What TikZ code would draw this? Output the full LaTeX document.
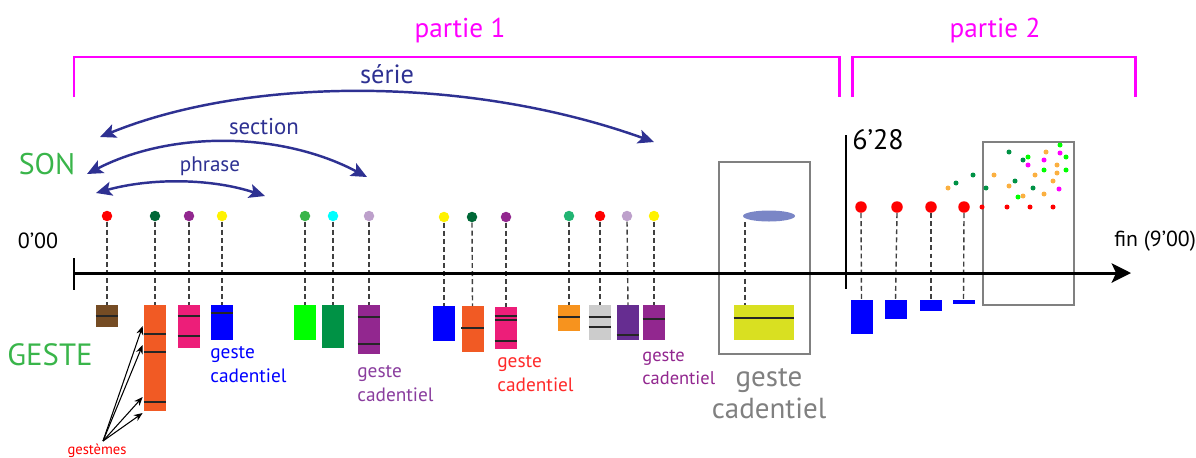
\documentclass[tikz,border=0pt]{standalone}
\usepackage{fontspec}
\setmainfont{PT Sans}
\usetikzlibrary{arrows.meta,shapes.geometric,calc}
\definecolor{mag}{HTML}{FF00FF}
\definecolor{arcblue}{HTML}{2E3192}
\definecolor{songreen}{HTML}{39B54A}
\definecolor{framegrey}{HTML}{808080}
\definecolor{dkgreen}{HTML}{006837}
\definecolor{purp}{HTML}{92278F}
\definecolor{ltpurp}{HTML}{BDA0CB}
\definecolor{yel}{HTML}{FFF200}
\definecolor{cyn}{HTML}{00FFFF}
\definecolor{brn}{HTML}{754C24}
\definecolor{org}{HTML}{F15A24}
\definecolor{pnk}{HTML}{ED1E79}
\definecolor{ltorg}{HTML}{F7931E}
\definecolor{dpurp}{HTML}{662D91}
\definecolor{ygreen}{HTML}{D9E021}
\definecolor{midgreen}{HTML}{009245}
\definecolor{tgreen}{HTML}{22B573}
\definecolor{sorg}{HTML}{FBB040}
\definecolor{elblue}{HTML}{7A86C6}
\definecolor{txtpurp}{HTML}{8A3D9E}
\definecolor{txtred}{HTML}{FF2A2A}
\definecolor{brightgreen}{HTML}{00FF00}
\definecolor{pureblue}{HTML}{0000FF}
\definecolor{purered}{HTML}{FF0000}
\newcommand\gbx[5]{\node[gbox, fill=#5, minimum height={(#4-#3)*0.02cm}] (#1) at (#2,#3) {};}
\newcommand\bline[2]{\draw[inl] ($(#1.north west)+(0,#2)$) -- ($(#1.north east)+(0,#2)$);}
\begin{document}
\begin{tikzpicture}[x=0.02cm,y=-0.02cm,
  lbl/.style={inner sep=0pt},
  dot/.style={circle, inner sep=0pt, minimum size=0.21cm},
  bdot/.style={circle, inner sep=0pt, minimum size=0.23cm, fill=purered},
  sdot/.style={circle, inner sep=0pt, minimum size=0.1cm},
  gbox/.style={rectangle, inner sep=0pt, minimum width=0.44cm, anchor=north, draw=none},
  dsh/.style={draw=black!75, line width=0.8pt, dash pattern=on 2.8pt off 1.8pt},
  inl/.style={draw=black!85, line width=0.9pt},
  arcarrow/.style={draw=arcblue, line width=1.4pt, {Stealth[length=9pt,width=8pt,inset=2pt]}-{Stealth[length=9pt,width=8pt,inset=2pt]}},
  brk/.style={draw=mag, line width=1.7pt},
  gframe/.style={draw=framegrey, line width=1.3pt},
  gc/.style={inner sep=0pt, align=left, font=\fontsize{11}{13.7}\selectfont},
]
\useasboundingbox (0,0) rectangle (1196,457);

% brackets
\draw[brk] (74,97) -- (74,57) -- (839,57) -- (839,97);
\draw[brk] (852,97) -- (852,57) -- (1135,57) -- (1135,97);
\node[lbl, text=mag, font=\fontsize{15.5}{18}\selectfont] (part1) at (460,31) {partie 1};
\node[lbl, text=mag, font=\fontsize{15.5}{18}\selectfont] (part2) at (995,31) {partie 2};

% arcs
\coordinate (serA) at (100,137); \coordinate (serB) at (654,142);
\coordinate (secA) at (87,174); \coordinate (secB) at (367,177);
\coordinate (phrA) at (96,193); \coordinate (phrB) at (265,196);
\draw[arcarrow] (serA) .. controls (250,76) and (470,76) .. (serB);
\draw[arcarrow] (secA) .. controls (170,131) and (280,131) .. (secB);
\draw[arcarrow] (phrA) .. controls (150,178) and (210,178) .. (phrB);
\node[lbl, text=arcblue, font=\fontsize{15}{18}\selectfont] (serie) at (387,74) {série};
\node[lbl, text=arcblue, font=\fontsize{13}{16}\selectfont] (section) at (264,127) {section};
\node[lbl, text=arcblue, font=\fontsize{12}{14}\selectfont] (phrase) at (210,166) {phrase};

\node[lbl, text=songreen, font=\fontsize{17}{20}\selectfont] (son) at (47,164) {SON};
\node[lbl, text=songreen, font=\fontsize{17.5}{20}\selectfont] (geste) at (50,355) {GESTE};
\node[lbl, font=\fontsize{12.5}{15}\selectfont] (t0) at (38,241) {0’00};

% grey frames
\draw[gframe] (719,162) rectangle (810,354);
\draw[gframe] (983,142) rectangle (1074,305);

% dots
\node[dot, fill=purered] (d1) at (107,216) {};
\node[dot, fill=dkgreen] (d2) at (155,216) {};
\node[dot, fill=purp] (d3) at (189,216) {};
\node[dot, fill=yel] (d4) at (222,216) {};
\node[dot, fill=songreen] (d5) at (305,216) {};
\node[dot, fill=cyn] (d6) at (333,216) {};
\node[dot, fill=ltpurp] (d7) at (369,216) {};
\node[dot, fill=yel] (d8) at (444,217) {};
\node[dot, fill=dkgreen] (d9) at (472,217) {};
\node[dot, fill=purp] (d10) at (506,217) {};
\node[dot, fill=tgreen] (d11) at (569,216) {};
\node[dot, fill=purered] (d12) at (600,216) {};
\node[dot, fill=ltpurp] (d13) at (627,216) {};
\node[dot, fill=yel] (d14) at (654,216) {};
\node[ellipse, fill=elblue, inner sep=0pt, minimum width=1.04cm, minimum height=0.22cm] (e1) at (769,216) {};
\coordinate (e1d) at (745,222);

% boxes
\gbx{b1}{107}{305}{327}{brn}
\gbx{b2}{155}{305}{411}{org}
\gbx{b3}{189}{305}{348}{pnk}
\gbx{b4}{222}{305}{340}{pureblue}
\gbx{b5}{305}{305}{340}{brightgreen}
\gbx{b6}{333}{305}{348}{midgreen}
\gbx{b7}{369}{305}{354}{purp}
\gbx{b8}{444}{306}{341}{pureblue}
\gbx{b9}{472.5}{306}{352}{org}
\gbx{b10}{506}{307}{349}{pnk}
\gbx{b11}{569}{305}{331}{ltorg}
\gbx{b12}{600}{305}{340}{black!20}
\gbx{b13}{628}{305}{340}{dpurp}
\gbx{b14}{654}{305}{340}{purp}
\node[gbox, fill=ygreen, minimum width=1.2cm, minimum height={35*0.02cm}] (b15) at (764,305) {};
\coordinate (b15t) at (745,305);

\bline{b1}{11}
\bline{b2}{29}\bline{b2}{47}\bline{b2}{97}
\bline{b3}{11}\bline{b3}{31}
\bline{b4}{8}
\bline{b7}{12}\bline{b7}{39}
\bline{b9}{22}
\bline{b10}{9}\bline{b10}{13}\bline{b10}{34}
\bline{b11}{12}
\bline{b12}{12}\bline{b12}{22}
\bline{b13}{30}
\bline{b14}{14}
\bline{b15}{13}

% dashed connectors
\foreach \i in {1,...,14}{\draw[dsh] (d\i.south) -- (b\i.north);}
\draw[dsh] (e1d) -- (b15t);

% part 2
\node[bdot] (p1) at (861,207) {};
\node[bdot] (p2) at (897,207) {};
\node[bdot] (p3) at (931,207) {};
\node[bdot] (p4) at (964,207) {};
\gbx{q1}{861.5}{300}{334}{pureblue}
\gbx{q2}{895.5}{300}{319}{pureblue}
\gbx{q3}{931}{300}{311}{pureblue}
\gbx{q4}{963.5}{300}{304}{pureblue}
\foreach \i in {1,...,4}{\draw[dsh] (p\i.south) -- (q\i.north);}

% scattered dots
\foreach \x/\y/\c [count=\k] in {
 948/188/sorg, 956/183/midgreen, 973/175/midgreen, 994/175/sorg, 986/188/midgreen,
 982/207/purered, 1009/152/midgreen, 1023/160/midgreen, 1028/157/brightgreen, 1028/165/mag,
 1015/181/midgreen, 1009/186/sorg, 1018/197/brightgreen, 1023/196/sorg, 1007/207/purered,
 1035/175/sorg, 1033/188/midgreen, 1030/207/purered, 1046/152/sorg, 1044/160/mag,
 1044/170/brightgreen, 1057/165/sorg, 1057/173/sorg, 1053/181/sorg, 1044/194/sorg,
 1053/207/purered, 1060/145/brightgreen, 1060/153/mag, 1066/157/brightgreen, 1066/170/brightgreen,
 1059/189/mag}
 {\node[sdot, fill=\c] (s\k) at (\x,\y) {};}

% axis
\coordinate (ax0) at (74,273);
\coordinate (ax1) at (1131,273);
\draw[line width=1.7pt, -{Stealth[length=11pt,width=11pt,inset=2.5pt]}] (ax0) -- (ax1);
\draw[line width=1.7pt] (74,258) -- (74,290);
\draw[line width=1.5pt] (846,135) -- (846,289);
\node[lbl, anchor=west, font=\fontsize{16}{19}\selectfont] (t628) at (852,140) {6’28};
\node[lbl, anchor=west, font=\fontsize{12.4}{14}\selectfont] (tfin) at (1114,241) {fin (9’00)};

% labels
\node[gc, text=pureblue, anchor=west] (gc1) at (210,365) {geste\\cadentiel};
\node[gc, text=txtpurp, anchor=west] (gc2) at (357,384) {geste\\cadentiel};
\node[gc, text=txtred, anchor=west] (gc3) at (497,373.5) {geste\\cadentiel};
\node[gc, text=purp, anchor=west, font=\fontsize{10.5}{13.1}\selectfont] (gc4) at (642,367.5) {geste\\cadentiel};
\node[lbl, text=framegrey, align=center, font=\fontsize{16.5}{18.2}\selectfont] (gc5) at (769,394) {geste\\cadentiel};

% gestemes
\node[lbl, text=purered, font=\fontsize{8.3}{10}\selectfont] (gest) at (97,451) {gestèmes};
\coordinate (g0) at (103,441);
\foreach \o in {21,40,92,108}{\draw[line width=0.6pt, -{Stealth[length=5pt,width=4pt]}] (g0) -- ($(b2.north west)+(-1,\o)$);}
\end{tikzpicture}
\end{document}
